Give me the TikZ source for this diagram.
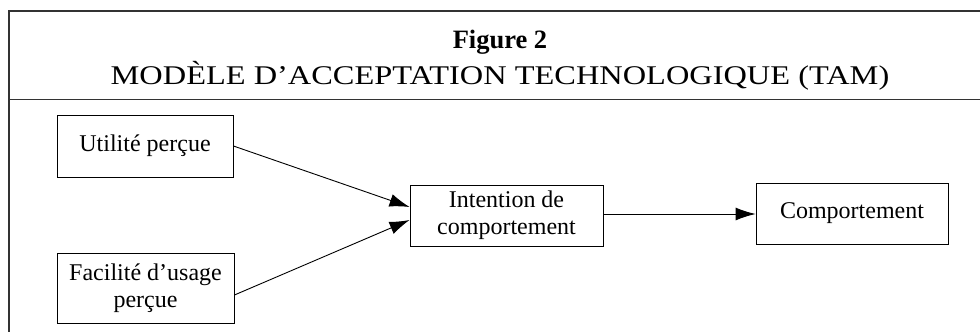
\documentclass[tikz,border=0pt]{standalone}
\usepackage{fontspec}
\setmainfont{Liberation Serif}
\usepackage{tikz}
\usetikzlibrary{arrows.meta,calc,positioning}
\tikzset{%
	bloc/.style   = {draw, rectangle, line width=0.9pt, inner sep=0pt, align=center, text centered, font=\fontsize{24}{27}\selectfont},
	fleche/.style = {line width=0.9pt, -{Latex[length=20pt,width=13pt]}},
	cadre/.style  = {line width=1.6pt, black!80},
}

\begin{document}
\begin{tikzpicture}[x=1pt,y=-1pt]
	\useasboundingbox (0,0) rectangle (980,332);
	\clip (0,0) rectangle (980,332);
	\draw[cadre] (995,10.7) -- (8.7,10.7) -- (8.7,340);
	\draw[cadre] (8.7,99.5) -- (995,99.5);
	\node[anchor=base] (fig) at (500,48.3) {\fontsize{26.5}{30}\selectfont\bfseries Figure 2};
	\node[anchor=base] (titre) at (500,84) {\scalebox{1.2}[1]{\fontsize{27}{30}\selectfont MODÈLE D’ACCEPTATION TECHNOLOGIQUE (TAM)}};
	\node[bloc, minimum width=176pt, minimum height=62pt] (util) at (145,146) {Utilité perçue};
	\node[bloc, minimum width=177pt, minimum height=70pt] (facil) at (145.5,288) {Facilité d’usage\\perçue};
	\node[bloc, minimum width=193pt, minimum height=61pt] (intent) at (506.5,215.5) {Intention de\\comportement};
	\node[bloc, minimum width=192pt, minimum height=61pt] (comport) at (852,213.5) {Comportement};
	\draw[fleche] (util.east) -- ([yshift=8.5pt]intent.west);
	\draw[fleche] ([yshift=-7pt]facil.east) -- ([yshift=-4.5pt]intent.west);
	\draw[fleche] ([yshift=1.5pt]intent.east) -- ([yshift=1.5pt]intent.east -| comport.west);
\end{tikzpicture}
\end{document}
